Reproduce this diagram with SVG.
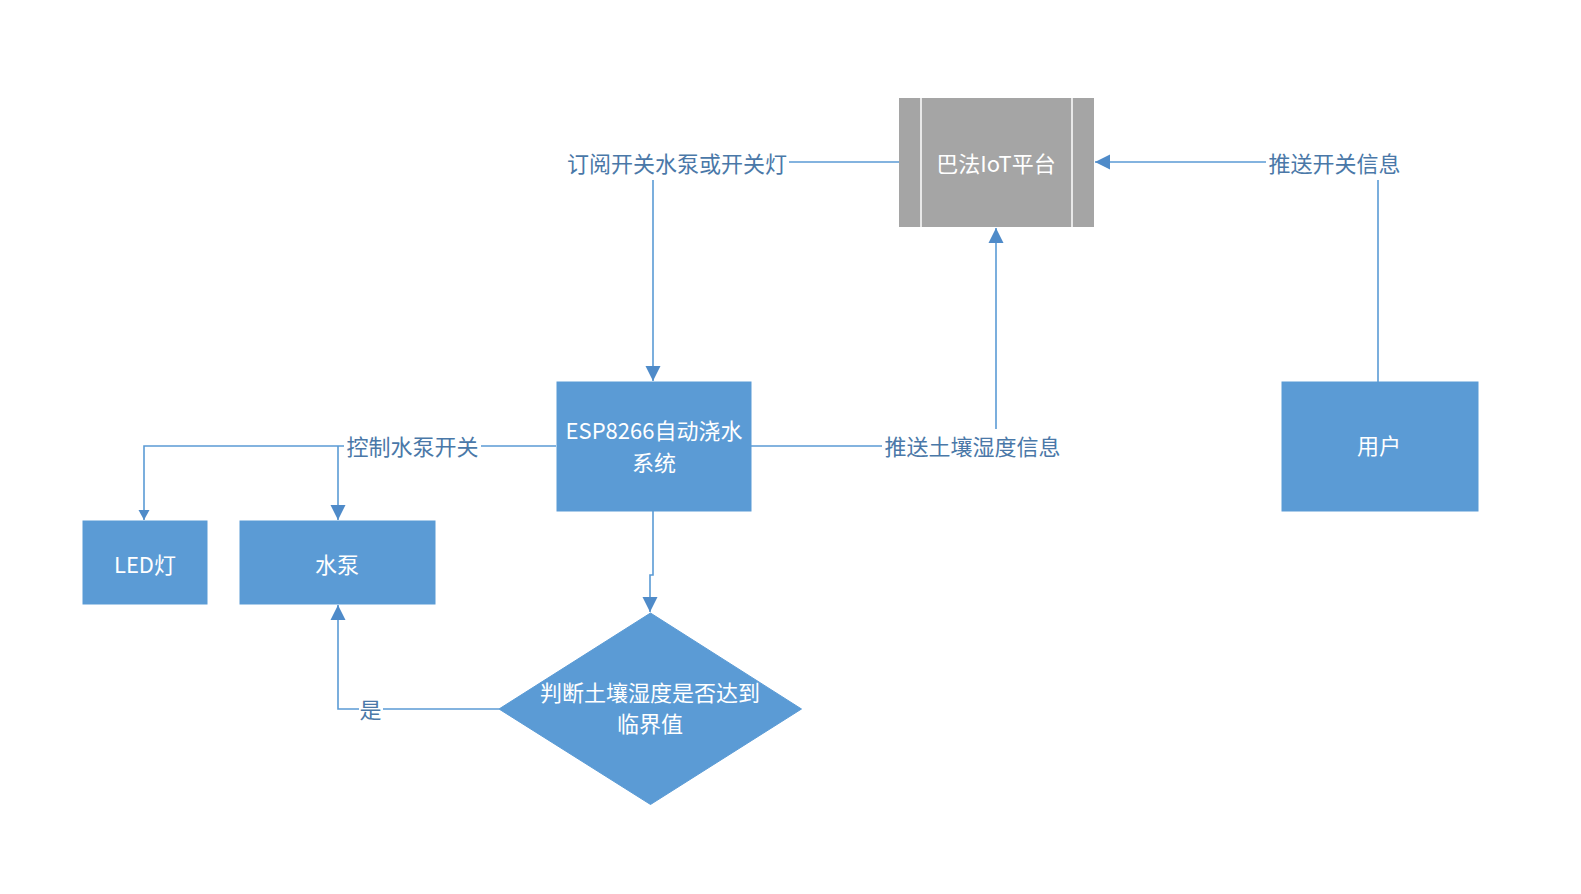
<svg xmlns="http://www.w3.org/2000/svg" width="1581" height="894" viewBox="0 0 1581 894">
<style>
.box{fill:#5B9BD5;stroke:#5B9BD5;stroke-width:1}
.ntext{fill:#FFFFFF;font-family:"Noto Sans CJK SC","Liberation Sans",sans-serif;font-size:22px;text-anchor:middle;dominant-baseline:central}
.conn{fill:none;stroke:#5B9BD5;stroke-width:1.6}
.lbg{fill:#FFFFFF}
.ltext{fill:#4A78A8;font-family:"Noto Sans CJK SC","Liberation Sans",sans-serif;font-size:22px;text-anchor:middle;dominant-baseline:central}
</style>
<defs>
<marker id="arr" markerWidth="16" markerHeight="16" refX="15" refY="8" orient="auto" markerUnits="userSpaceOnUse">
<polygon points="0,0.5 15,8 0,15.5" fill="#4F8BC9"/>
</marker>
<marker id="arrs" markerWidth="11" markerHeight="12" refX="10" refY="6" orient="auto" markerUnits="userSpaceOnUse">
<polygon points="0,0.5 10,6 0,11.5" fill="#4F8BC9"/>
</marker>
</defs>
<rect width="1581" height="894" fill="#FFFFFF"/>
<g id="connectors">
<path class="conn" d="M899,162 H653 V381" marker-end="url(#arr)"/>
<path class="conn" d="M751,446 H996 V228" marker-end="url(#arr)"/>
<path class="conn" d="M1378,382 V162 H1095" marker-end="url(#arr)"/>
<path class="conn" d="M556,446 H144 V520" marker-end="url(#arrs)"/>
<path class="conn" d="M338,446 V520" marker-end="url(#arr)"/>
<path class="conn" d="M653,511 V575 H650 V612" marker-end="url(#arr)"/>
<path class="conn" d="M499,709 H338 V605" marker-end="url(#arr)"/>
<rect class="lbg" x="565" y="146" width="224" height="34"/>
<text class="ltext" x="677" y="162">订阅开关水泵或开关灯</text>
<rect class="lbg" x="882" y="429" width="181" height="33"/>
<text class="ltext" x="972.5" y="445">推送土壤湿度信息</text>
<rect class="lbg" x="1266" y="146" width="137" height="34"/>
<text class="ltext" x="1334.5" y="162">推送开关信息</text>
<rect class="lbg" x="344" y="431" width="137" height="30"/>
<text class="ltext" x="412.5" y="445">控制水泵开关</text>
<rect class="lbg" x="359" y="697" width="24" height="24"/>
<text class="ltext" x="370.5" y="708">是</text>
</g>
<g id="iot">
<rect x="899" y="98" width="195" height="129" fill="#A5A5A5"/>
<line x1="921" y1="98" x2="921" y2="227" stroke="#FFFFFF" stroke-width="1.5"/>
<line x1="1072" y1="98" x2="1072" y2="227" stroke="#FFFFFF" stroke-width="1.5"/>
<text class="ntext" x="996" y="162">巴法IoT平台</text>
</g>
<g id="esp">
<rect class="box" x="557" y="382" width="194" height="129"/>
<text class="ntext" x="654" y="429">ESP8266自动浇水</text>
<text class="ntext" x="654" y="461">系统</text>
</g>
<g id="user">
<rect class="box" x="1282" y="382" width="196" height="129"/>
<text class="ntext" x="1379" y="444">用户</text>
</g>
<g id="led">
<rect class="box" x="83" y="521" width="124" height="83"/>
<text class="ntext" x="145" y="563">LED灯</text>
</g>
<g id="pump">
<rect class="box" x="240" y="521" width="195" height="83"/>
<text class="ntext" x="337" y="563">水泵</text>
</g>
<g id="decision">
<polygon class="box" points="650.5,613 801.5,709 650.5,804.5 499,709"/>
<text class="ntext" x="650" y="691">判断土壤湿度是否达到</text>
<text class="ntext" x="650" y="722">临界值</text>
</g>
</svg>
